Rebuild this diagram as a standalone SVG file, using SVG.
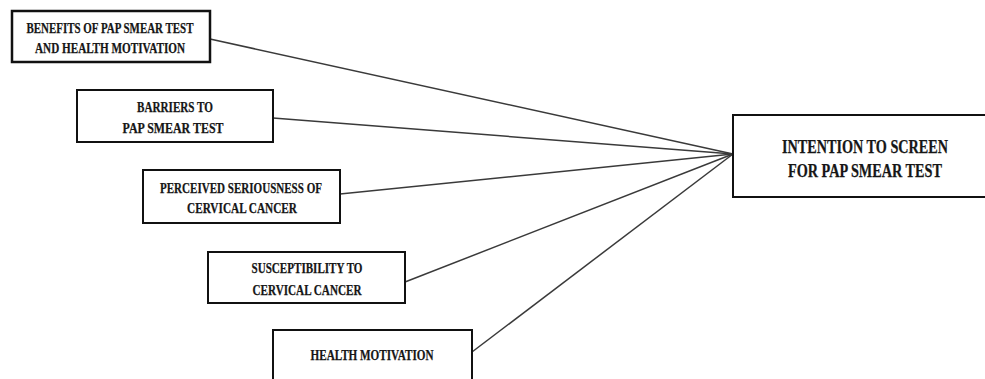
<svg xmlns="http://www.w3.org/2000/svg" width="985" height="379" viewBox="0 0 985 379">
  <style>
    .box { fill: #ffffff; stroke: #111111; stroke-width: 2; }
    .open { fill: #ffffff; stroke: #111111; stroke-width: 2; }
    .lbl { font-family: "Liberation Serif", "Times New Roman", serif; font-weight: bold; font-size: 15px; fill: #161616; stroke: #161616; stroke-width: 0.25; text-anchor: middle; }
    .big { font-size: 19px; }
    .edge { stroke: #3a3a3a; stroke-width: 1.5; fill: none; }
  </style>
  <rect width="985" height="379" fill="#ffffff"/>

  <g id="connectors">
    <line class="edge" x1="210" y1="39" x2="733" y2="154"/>
    <line class="edge" x1="273" y1="118" x2="733" y2="154"/>
    <line class="edge" x1="340" y1="194" x2="733" y2="154"/>
    <line class="edge" x1="405" y1="282" x2="733" y2="154"/>
    <line class="edge" x1="472" y1="352" x2="733" y2="154"/>
  </g>

  <g id="benefits">
    <rect class="box" x="12" y="11" width="198" height="51" style="stroke-width:2.5"/>
    <text class="lbl" x="110" y="33" textLength="167" lengthAdjust="spacingAndGlyphs">BENEFITS OF PAP SMEAR TEST</text>
    <text class="lbl" x="110" y="53" textLength="150" lengthAdjust="spacingAndGlyphs">AND HEALTH MOTIVATION</text>
  </g>

  <g id="barriers">
    <rect class="box" x="77" y="90" width="196" height="52"/>
    <text class="lbl" x="175" y="112" textLength="76" lengthAdjust="spacingAndGlyphs">BARRIERS TO</text>
    <text class="lbl" x="173" y="133" textLength="101" lengthAdjust="spacingAndGlyphs">PAP SMEAR TEST</text>
  </g>

  <g id="seriousness">
    <rect class="box" x="143" y="170" width="197" height="53"/>
    <text class="lbl" x="241" y="193" textLength="162" lengthAdjust="spacingAndGlyphs">PERCEIVED SERIOUSNESS OF</text>
    <text class="lbl" x="242" y="213" textLength="110" lengthAdjust="spacingAndGlyphs">CERVICAL CANCER</text>
  </g>

  <g id="susceptibility">
    <rect class="box" x="208" y="252" width="197" height="51"/>
    <text class="lbl" x="307" y="273" textLength="111" lengthAdjust="spacingAndGlyphs">SUSCEPTIBILITY TO</text>
    <text class="lbl" x="307" y="295" textLength="109" lengthAdjust="spacingAndGlyphs">CERVICAL CANCER</text>
  </g>

  <g id="health-motivation">
    <!-- box runs past the bottom edge of the canvas -->
    <path class="open" d="M273 379 V330 H472 V379"/>
    <text class="lbl" x="372" y="360" textLength="123" lengthAdjust="spacingAndGlyphs">HEALTH MOTIVATION</text>
  </g>

  <g id="intention">
    <!-- box runs past the right edge of the canvas -->
    <path class="open" d="M985 115 H733 V197 H985"/>
    <text class="lbl big" x="865" y="153" textLength="166" lengthAdjust="spacingAndGlyphs">INTENTION TO SCREEN</text>
    <text class="lbl big" x="865" y="177" textLength="154" lengthAdjust="spacingAndGlyphs">FOR PAP SMEAR TEST</text>
  </g>
</svg>
